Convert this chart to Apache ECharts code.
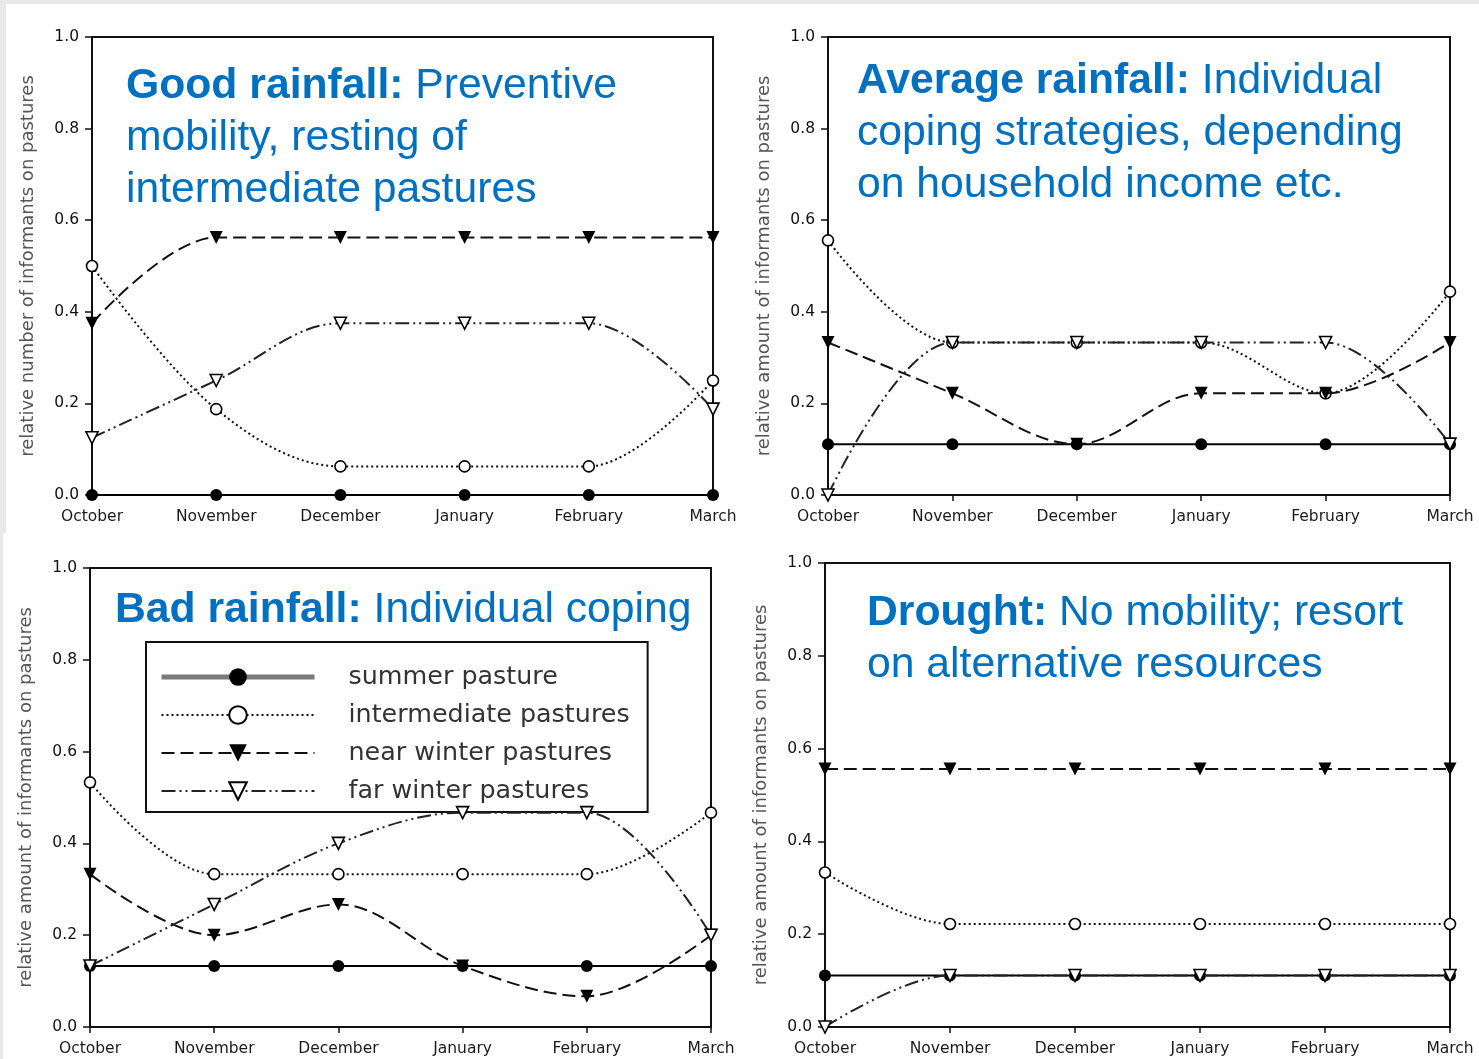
<!DOCTYPE html>
<html><head><meta charset="utf-8">
<script src="https://cdn.jsdelivr.net/npm/echarts@6/dist/echarts.min.js"></script>
<style>html,body{margin:0;padding:0;background:#fff}#c{width:1479px;height:1059px}</style>
</head><body><div id="c"></div><script>
// ---------- data ----------
var months = ['October', 'November', 'December', 'January', 'February', 'March'];
var seriesNames = ['summer pasture', 'intermediate pastures', 'near winter pastures', 'far winter pastures'];

var goodSummer       = [0, 0, 0, 0, 0, 0];
var goodIntermediate = [0.5, 0.1875, 0.0625, 0.0625, 0.0625, 0.25];
var goodNearWinter   = [0.375, 0.5625, 0.5625, 0.5625, 0.5625, 0.5625];
var goodFarWinter    = [0.125, 0.25, 0.375, 0.375, 0.375, 0.1875];

var avgSummer       = [0.111, 0.111, 0.111, 0.111, 0.111, 0.111];
var avgIntermediate = [0.556, 0.333, 0.333, 0.333, 0.222, 0.444];
var avgNearWinter   = [0.333, 0.222, 0.111, 0.222, 0.222, 0.333];
var avgFarWinter    = [0, 0.333, 0.333, 0.333, 0.333, 0.111];

var badSummer       = [0.133, 0.133, 0.133, 0.133, 0.133, 0.133];
var badIntermediate = [0.533, 0.333, 0.333, 0.333, 0.333, 0.467];
var badNearWinter   = [0.333, 0.2, 0.267, 0.133, 0.067, 0.2];
var badFarWinter    = [0.133, 0.267, 0.4, 0.467, 0.467, 0.2];

var droughtSummer       = [0.111, 0.111, 0.111, 0.111, 0.111, 0.111];
var droughtIntermediate = [0.333, 0.222, 0.222, 0.222, 0.222, 0.222];
var droughtNearWinter   = [0.556, 0.556, 0.556, 0.556, 0.556, 0.556];
var droughtFarWinter    = [0, 0.111, 0.111, 0.111, 0.111, 0.111];

var yTitles = ['relative number of informants on pastures', 'relative amount of informants on pastures',
               'relative amount of informants on pastures', 'relative amount of informants on pastures'];
var panelTitles = [
  ['Good rainfall:', ' Preventive\nmobility, resting of\nintermediate pastures'],
  ['Average rainfall:', ' Individual\ncoping strategies, depending\non household income etc.'],
  ['Bad rainfall:', ' Individual coping'],
  ['Drought:', ' No mobility; resort\non alternative resources']
];

// ---------- layout / style ----------
var panels = [
  {grid: {left: 92, right: 766, top: 37, bottom: 564}, data: [goodSummer, goodIntermediate, goodNearWinter, goodFarWinter], xTick: false, title: {left: 126, top: 60}},
  {grid: {left: 828, right: 29, top: 37, bottom: 564}, data: [avgSummer, avgIntermediate, avgNearWinter, avgFarWinter], xTick: true, title: {left: 857, top: 55}},
  {grid: {left: 90, right: 768, top: 568, bottom: 32}, data: [badSummer, badIntermediate, badNearWinter, badFarWinter], xTick: true, title: {left: 115, top: 584}},
  {grid: {left: 825, right: 29, top: 563, bottom: 32}, data: [droughtSummer, droughtIntermediate, droughtNearWinter, droughtFarWinter], xTick: true, title: {left: 867, top: 587}}
];

var styles = [
  {symbol: 'circle', symbolRotate: 0, symbolSize: 12, itemStyle: {color: '#000'}, lineStyle: {color: '#000', width: 2, type: 'solid'}},
  {symbol: 'circle', symbolRotate: 0, symbolSize: 11, itemStyle: {color: '#fff', borderColor: '#000', borderWidth: 1.6}, lineStyle: {color: '#111', width: 2, type: [2, 3]}},
  {symbol: 'triangle', symbolRotate: 180, symbolSize: 13, itemStyle: {color: '#000'}, lineStyle: {color: '#111', width: 2, type: [13, 6]}},
  {symbol: 'triangle', symbolRotate: 180, symbolSize: 12, itemStyle: {color: '#fff', borderColor: '#000', borderWidth: 1.6}, lineStyle: {color: '#222', width: 2, type: [14, 4, 2, 4, 2, 4]}}
];

var axisFont = 'DejaVu Sans';
var grids = [], xAxes = [], yAxes = [], series = [], titles = [];
panels.forEach(function (p, i) {
  grids.push(Object.assign({show: true, borderColor: '#111', borderWidth: 2, backgroundColor: 'transparent'}, p.grid));
  xAxes.push({
    type: 'category', gridIndex: i, data: months, boundaryGap: false,
    axisLine: {lineStyle: {color: '#111', width: 2}},
    axisTick: {show: p.xTick, alignWithLabel: true, length: 6, lineStyle: {color: '#111', width: 1.5}},
    axisLabel: {margin: 14, color: '#1a1a1a', fontFamily: axisFont, fontSize: 15.5, interval: 0, showMaxLabel: true, showMinLabel: true},
    splitLine: {show: false}
  });
  yAxes.push({
    type: 'value', gridIndex: i, min: 0, max: 1, interval: 0.2,
    name: yTitles[i], nameLocation: 'middle', nameGap: 55,
    nameTextStyle: {color: '#555', fontFamily: axisFont, fontSize: 18},
    axisLine: {show: true, lineStyle: {color: '#111', width: 2}},
    axisTick: {show: true, length: 7, lineStyle: {color: '#111', width: 1.5}},
    axisLabel: {margin: 13, color: '#111', fontFamily: axisFont, fontSize: 15.5, formatter: function (v) { return v.toFixed(1); }},
    splitLine: {show: false}
  });
  p.data.forEach(function (vals, k) {
    var st = styles[k];
    series.push({
      name: seriesNames[k], type: 'line', xAxisIndex: i, yAxisIndex: i,
      data: vals, smooth: 0.35, symbol: st.symbol, symbolRotate: st.symbolRotate, symbolSize: st.symbolSize,
      showAllSymbol: true, itemStyle: st.itemStyle, lineStyle: st.lineStyle, clip: false,
      z: 3 + k, animation: false
    });
  });
  titles.push({
    left: p.title.left, top: p.title.top, padding: 0,
    text: '{b|' + panelTitles[i][0] + '}' + panelTitles[i][1],
    textStyle: {
      color: '#0070C0', fontFamily: 'Liberation Sans, Arial', fontSize: 42.7, fontWeight: 'normal', lineHeight: 52,
      rich: {b: {color: '#0070C0', fontFamily: 'Liberation Sans, Arial', fontSize: 42.7, fontWeight: 'bold', lineHeight: 52}}
    }
  });
});

var chart = echarts.init(document.getElementById('c'), null, {renderer: 'canvas'});
chart.setOption({
  backgroundColor: '#e9e9e9',
  animation: false,
  graphic: [
    {type: 'rect', shape: {x: 6, y: 4, width: 1473, height: 529}, style: {fill: '#fff'}, z: -10, silent: true},
    {type: 'rect', shape: {x: 3, y: 533, width: 1476, height: 526}, style: {fill: '#fff'}, z: -10, silent: true}
  ],
  title: titles,
  grid: grids, xAxis: xAxes, yAxis: yAxes, series: series,
  legend: {
    orient: 'vertical', left: 146, top: 642,
    data: [
      {name: 'summer pasture', lineStyle: {color: '#7a7a7a', width: 5, type: 'solid'}},
      {name: 'intermediate pastures'},
      {name: 'near winter pastures'},
      {name: 'far winter pastures'}
    ],
    itemWidth: 153, itemHeight: 22, itemGap: 8,
    padding: [20, 18, 6, 13],
    backgroundColor: '#fff', borderColor: '#111', borderWidth: 2,
    selectedMode: false,
    textStyle: {color: '#333', fontFamily: axisFont, fontSize: 25.4, lineHeight: 30, padding: [0, 0, 0, 29]}
  }
});
</script></body></html>
